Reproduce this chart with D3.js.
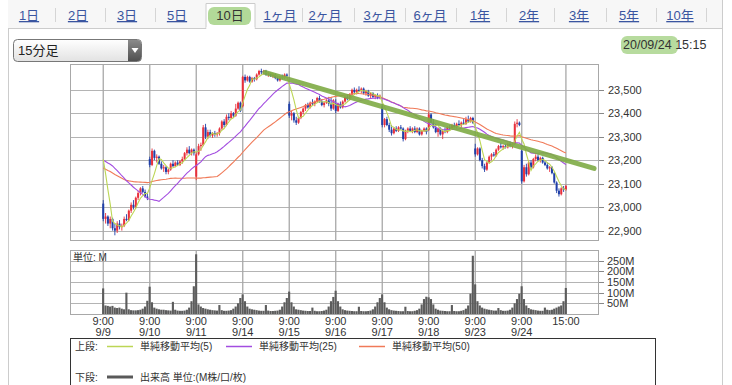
<!DOCTYPE html>
<meta charset="utf-8">
<script src="https://d3js.org/d3.v7.min.js"></script>
<style>
  body { margin: 0; background: #fff; }
  svg text { font-family: "Liberation Sans", "Noto Sans CJK JP", sans-serif; fill: #333; }
</style>
<div id="chart"></div>
<script>
// ---- data ----
var days = ["9/9", "9/10", "9/11", "9/14", "9/15", "9/16", "9/17", "9/18", "9/23", "9/24"];
var barsPerDay = 20;
var tabs = ["1日", "2日", "3日", "5日", "10日", "1ヶ月", "2ヶ月", "3ヶ月", "6ヶ月", "1年", "2年", "3年", "5年", "10年"];
var priceTicks = [22900, 23000, 23100, 23200, 23300, 23400, 23500];
var volumeTicks = [50, 100, 150, 200, 250];

// closes before 9/9 (needed so the moving averages start at the first bar)
var priorCloses = [
  23210, 23200, 23195, 23205, 23210, 23200, 23190, 23205, 23205,
  23120, 23100, 23085, 23090, 23080, 23095, 23100, 23090, 23085, 23080, 23090, 23100, 23095, 23105, 23110, 23100, 23095, 23090, 23085, 23090,
  23150, 23170, 23185, 23200, 23210, 23220, 23215, 23230, 23240, 23235, 23250, 23260, 23255, 23265, 23270, 23260, 23265, 23270, 23260, 23275
];

// 15 minute bars, 20 per day
var opens = [
  23015,22950,22960,22930,22950,22910,22900,22930,22915,22920,22950,22945,22985,23010,23000,23040,23060,23080,23065,23045,
  23205,23180,23240,23210,23215,23185,23165,23170,23150,23160,23185,23175,23190,23180,23195,23205,23230,23245,23230,23245,
  23130,23225,23260,23265,23340,23300,23320,23305,23315,23310,23315,23335,23365,23350,23385,23380,23400,23390,23420,23445,
  23430,23555,23540,23555,23535,23550,23545,23565,23580,23575,23580,23565,23570,23560,23565,23550,23540,23555,23550,23565,
  23440,23390,23400,23370,23360,23380,23405,23420,23435,23425,23445,23440,23450,23465,23450,23435,23445,23455,23440,23420,
  23440,23410,23440,23425,23450,23470,23460,23480,23500,23490,23500,23495,23505,23485,23495,23475,23485,23470,23475,23465,
  23430,23350,23375,23350,23330,23315,23335,23325,23340,23335,23290,23325,23335,23325,23335,23320,23335,23310,23325,23335,
  23330,23395,23360,23340,23320,23335,23310,23325,23320,23340,23335,23350,23340,23355,23350,23360,23355,23375,23365,23380,
  23250,23225,23250,23200,23175,23160,23190,23215,23225,23220,23245,23260,23255,23260,23255,23270,23260,23270,23355,23360,
  23240,23110,23170,23140,23190,23170,23205,23215,23200,23210,23190,23180,23165,23170,23145,23105,23070,23055,23080,23075
];
var highs = [
  23030,22975,22965,22960,22955,22930,22940,22945,22930,22960,22970,22990,23020,23030,23045,23070,23085,23090,23075,23060,
  23215,23250,23245,23225,23220,23195,23180,23175,23165,23190,23200,23195,23200,23200,23215,23235,23255,23260,23250,23250,
  23235,23270,23275,23350,23355,23330,23330,23320,23325,23320,23340,23370,23375,23395,23400,23410,23405,23440,23450,23450,
  23560,23565,23560,23560,23555,23555,23570,23585,23590,23585,23585,23575,23575,23570,23570,23560,23560,23565,23570,23570,
  23450,23410,23405,23385,23385,23410,23425,23440,23445,23450,23460,23455,23470,23475,23460,23450,23460,23470,23465,23460,
  23460,23445,23450,23455,23475,23480,23485,23505,23510,23505,23515,23510,23510,23500,23500,23490,23490,23480,23485,23480,
  23440,23380,23385,23360,23350,23340,23345,23345,23350,23340,23330,23340,23345,23340,23345,23340,23340,23330,23340,23340,
  23405,23400,23375,23355,23340,23340,23330,23340,23345,23350,23355,23360,23360,23370,23365,23375,23385,23390,23385,23385,
  23270,23255,23255,23210,23185,23195,23220,23230,23235,23250,23265,23275,23265,23270,23275,23280,23275,23365,23375,23365,
  23245,23180,23185,23200,23200,23210,23225,23225,23215,23215,23200,23190,23175,23175,23150,23110,23080,23085,23090,23095
];
var lows = [
  22940,22930,22920,22910,22900,22880,22890,22905,22900,22915,22940,22940,22975,22990,22995,23030,23050,23060,23040,23030,
  23170,23175,23200,23190,23180,23160,23150,23140,23140,23155,23170,23170,23175,23175,23185,23200,23220,23225,23220,23220,
  23115,23220,23240,23260,23290,23290,23300,23295,23300,23300,23305,23330,23340,23345,23370,23375,23380,23385,23415,23405,
  23425,23530,23535,23530,23530,23535,23540,23560,23565,23565,23560,23555,23555,23550,23545,23535,23535,23545,23545,23550,
  23380,23370,23360,23350,23355,23375,23395,23410,23420,23420,23435,23430,23445,23445,23430,23425,23440,23430,23410,23415,
  23400,23405,23420,23420,23445,23455,23455,23475,23485,23480,23490,23485,23480,23475,23470,23465,23465,23460,23460,23460,
  23340,23340,23345,23320,23305,23310,23320,23320,23330,23280,23285,23315,23320,23315,23315,23315,23305,23305,23320,23310,
  23325,23355,23335,23315,23300,23305,23290,23315,23315,23330,23330,23335,23335,23345,23340,23350,23350,23360,23360,23355,
  23215,23220,23195,23165,23150,23155,23185,23200,23215,23215,23240,23250,23245,23250,23250,23255,23250,23265,23340,23345,
  23100,23105,23130,23135,23160,23165,23195,23195,23190,23185,23175,23160,23150,23140,23100,23060,23045,23050,23065,23070
];
var closes = [
  22950,22960,22930,22950,22910,22900,22930,22915,22920,22950,22945,22985,23010,23000,23040,23060,23080,23065,23045,23040,
  23180,23240,23210,23215,23185,23165,23170,23150,23160,23185,23175,23190,23180,23195,23205,23230,23245,23230,23245,23230,
  23225,23260,23265,23340,23300,23320,23305,23315,23310,23315,23335,23365,23350,23385,23380,23400,23390,23420,23445,23410,
  23555,23540,23555,23535,23550,23545,23565,23580,23575,23580,23565,23570,23560,23565,23550,23540,23555,23550,23565,23560,
  23390,23400,23370,23360,23380,23405,23420,23435,23425,23445,23440,23450,23465,23450,23435,23445,23455,23440,23420,23455,
  23410,23440,23425,23450,23470,23460,23480,23500,23490,23500,23495,23505,23485,23495,23475,23485,23470,23475,23465,23475,
  23350,23375,23350,23330,23315,23335,23325,23340,23335,23290,23325,23335,23325,23335,23320,23335,23310,23325,23335,23320,
  23395,23360,23340,23320,23335,23310,23325,23320,23340,23335,23350,23340,23355,23350,23360,23355,23375,23365,23380,23360,
  23225,23250,23200,23175,23160,23190,23215,23225,23220,23245,23260,23255,23260,23255,23270,23260,23270,23355,23360,23350,
  23110,23170,23140,23190,23170,23205,23215,23200,23210,23190,23180,23165,23170,23145,23105,23070,23055,23080,23075,23090
];
// volume, millions
var volumes = [
  120,40,38,35,38,30,28,30,25,22,100,22,18,17,17,18,20,25,35,62,
  128,55,30,25,22,20,20,18,17,16,57,20,16,15,15,16,20,30,60,130,
  280,45,35,28,25,22,20,18,17,16,42,18,15,15,16,18,25,35,50,75,
  92,60,35,25,22,20,18,16,15,15,42,16,14,14,15,16,20,35,55,75,
  105,55,35,22,20,18,16,15,14,14,30,15,13,13,14,16,20,35,60,80,
  109,60,35,22,18,16,15,14,13,13,34,14,13,13,14,16,22,35,55,75,
  92,55,30,22,18,16,15,14,13,13,34,14,13,13,15,18,25,45,70,81,
  78,70,45,25,20,16,15,14,13,13,42,14,13,13,15,18,25,40,95,273,
  139,60,40,30,25,22,20,18,16,16,28,18,15,15,16,20,30,50,70,95,
  130,70,40,28,22,20,18,16,15,15,30,20,18,20,25,30,35,40,60,122
];
// hand drawn trend line: [bar index, price]
var trendLine = [[69.5, 23574], [211.1, 23165]];

// ---- setup ----
var W = 732, H = 385;
var svg = d3.select("#chart").append("svg").attr("width", W).attr("height", H);

var plot = {left: 70, right: 598, top: 64, bottom: 240, vTop: 250, vBottom: 314};
var x = d3.scaleLinear().domain([-14.3, 212.8]).range([plot.left, plot.right]);
var y = d3.scaleLinear().domain([22860, 23610]).range([plot.bottom, plot.top]);
var yv = d3.scaleLinear().domain([0, 300]).range([plot.vBottom, plot.vTop]);
var step = x(1) - x(0);

// ---- frame & tabs ----
svg.append("rect").attr("x", 8).attr("y", 0).attr("width", 714).attr("height", 28).attr("fill", "#f7f7f7");
svg.append("line").attr("x1", 8).attr("x2", 722).attr("y1", 28.5).attr("y2", 28.5).attr("stroke", "#ccc");
svg.append("line").attr("x1", 8.5).attr("x2", 8.5).attr("y1", 28).attr("y2", H).attr("stroke", "#ccc");
svg.append("line").attr("x1", 722.5).attr("x2", 722.5).attr("y1", 0).attr("y2", H).attr("stroke", "#ccc");

var tabX = [29, 78, 127, 177, 230, 280, 325, 380, 430, 480, 529, 579, 629, 680];
var sepX = [55, 105, 155, null, null, 302, 354, 405, 456, 506, 554, 606, 656, 706];
var selected = 4;

svg.append("path")
  .attr("d", "M206,29 V3.5 H255 V29")
  .attr("fill", "#fff").attr("stroke", "#ccc");
svg.append("rect").attr("x", 206.5).attr("y", 27).attr("width", 48).attr("height", 3).attr("fill", "#fff");
svg.append("rect").attr("x", 208).attr("y", 7).attr("width", 43).attr("height", 18).attr("rx", 6)
  .attr("fill", "#9fcf7e").attr("opacity", 0.8);

svg.selectAll(".tab").data(tabs).enter().append("text")
  .attr("x", function(d, i) { return tabX[i]; })
  .attr("y", 20)
  .attr("text-anchor", "middle")
  .style("font-size", "13px")
  .style("fill", function(d, i) { return i === selected ? "#333" : "#3a55a0"; })
  .style("text-decoration", function(d, i) { return i === selected ? "none" : "underline"; })
  .text(function(d) { return d; });

svg.selectAll(".sep").data(sepX.filter(function(d) { return d !== null; })).enter().append("line")
  .attr("x1", function(d) { return d + 0.5; }).attr("x2", function(d) { return d + 0.5; })
  .attr("y1", 8).attr("y2", 22).attr("stroke", "#d5d5d5");

// dropdown
var defs = svg.append("defs");
var g1 = defs.append("linearGradient").attr("id", "ddg").attr("x1", 0).attr("x2", 0).attr("y1", 0).attr("y2", 1);
g1.append("stop").attr("offset", "0%").attr("stop-color", "#ffffff");
g1.append("stop").attr("offset", "100%").attr("stop-color", "#e2e2e2");
var g2 = defs.append("linearGradient").attr("id", "ddb").attr("x1", 0).attr("x2", 0).attr("y1", 0).attr("y2", 1);
g2.append("stop").attr("offset", "0%").attr("stop-color", "#8a8a8a");
g2.append("stop").attr("offset", "100%").attr("stop-color", "#505050");
svg.append("rect").attr("x", 13.5).attr("y", 39.5).attr("width", 128).attr("height", 22).attr("rx", 4)
  .attr("fill", "url(#ddg)").attr("stroke", "#777");
svg.append("path").attr("d", "M128,40 H137.5 A3.5,3.5 0 0 1 141,43.5 V57.5 A3.5,3.5 0 0 1 137.5,61 H128 Z")
  .attr("fill", "url(#ddb)");
svg.append("path").attr("d", "M131.5,48 L138.5,48 L135,53 Z").attr("fill", "#fff");
svg.append("text").attr("x", 18).attr("y", 55).style("font-size", "13px").style("fill", "#222").text("15分足");

// timestamp
svg.append("rect").attr("x", 621).attr("y", 36).attr("width", 57).attr("height", 18).attr("rx", 6)
  .attr("fill", "#9fcf7e").attr("opacity", 0.75);
svg.append("text").attr("x", 623).attr("y", 49).style("font-size", "12.5px").style("fill", "#333")
  .text("20/09/24 15:15");

// ---- grid ----
var dayIdx = days.map(function(d, i) { return i * barsPerDay; });
var gridIdx = dayIdx.concat([closes.length - 1]);

function panel(top, bottom, ticks, ys) {
  var g = svg.append("g");
  g.selectAll(".h").data(ticks).enter().append("line")
    .attr("x1", plot.left).attr("x2", plot.right)
    .attr("y1", function(d) { return Math.round(ys(d)) + 0.5; })
    .attr("y2", function(d) { return Math.round(ys(d)) + 0.5; })
    .attr("stroke", "#b4b4b4");
  g.selectAll(".v").data(gridIdx).enter().append("line")
    .attr("x1", function(d) { return x(d); }).attr("x2", function(d) { return x(d); })
    .attr("y1", top).attr("y2", bottom)
    .attr("stroke", "#a8a8a8").attr("stroke-width", 1.3);
  g.append("rect").attr("x", plot.left + 0.5).attr("y", top + 0.5)
    .attr("width", plot.right - plot.left).attr("height", bottom - top)
    .attr("fill", "none").attr("stroke", "#a8a8a8");
  // right axis
  g.selectAll(".tk").data(ticks).enter().append("line")
    .attr("x1", plot.right + 1).attr("x2", plot.right + 6)
    .attr("y1", function(d) { return Math.round(ys(d)) + 0.5; })
    .attr("y2", function(d) { return Math.round(ys(d)) + 0.5; })
    .attr("stroke", "#888");
  return g;
}

var pg = panel(plot.top, plot.bottom, priceTicks, y);
pg.selectAll(".pl").data(priceTicks).enter().append("text")
  .attr("x", 608).attr("y", function(d) { return y(d) + 4; })
  .style("font-size", "11px")
  .text(function(d) { return d3.format(",")(d); });

var vg = panel(plot.vTop, plot.vBottom, volumeTicks, yv);
vg.selectAll(".vl").data(volumeTicks).enter().append("text")
  .attr("x", 607).attr("y", function(d) { return yv(d) + 4; })
  .style("font-size", "11px")
  .text(function(d) { return d + "M"; });
svg.append("text").attr("x", 73).attr("y", 261).style("font-size", "10px").text("単位: M");

// x labels
svg.selectAll(".xt").data(gridIdx).enter().append("text")
  .attr("x", function(d) { return x(d); }).attr("y", 325)
  .attr("text-anchor", "middle").style("font-size", "11px")
  .text(function(d, i) { return i < days.length ? "9:00" : "15:00"; });
svg.selectAll(".xd").data(days).enter().append("text")
  .attr("x", function(d, i) { return x(dayIdx[i]); }).attr("y", 336)
  .attr("text-anchor", "middle").style("font-size", "11px")
  .text(function(d) { return d; });

// ---- volume bars ----
svg.append("g").selectAll("rect").data(volumes).enter().append("rect")
  .attr("x", function(d, i) { return x(i) - step / 2; })
  .attr("width", step - 0.2)
  .attr("y", function(d) { return yv(d); })
  .attr("height", function(d) { return yv(0) - yv(d); })
  .attr("fill", "#5c5c5c");

// ---- candles ----
var bars = closes.map(function(c, i) { return {i: i, o: opens[i], h: highs[i], l: lows[i], c: c}; });
var upC = "#e8303c", dnC = "#1f3fa8";
var cg = svg.append("g");
cg.selectAll(".wick").data(bars).enter().append("line")
  .attr("x1", function(d) { return x(d.i); }).attr("x2", function(d) { return x(d.i); })
  .attr("y1", function(d) { return y(d.h); }).attr("y2", function(d) { return y(d.l); })
  .attr("stroke", function(d) { return d.c >= d.o ? upC : dnC; }).attr("stroke-width", 0.9);
cg.selectAll(".body").data(bars).enter().append("rect")
  .attr("x", function(d) { return x(d.i) - 1; })
  .attr("width", 2)
  .attr("y", function(d) { return y(Math.max(d.o, d.c)); })
  .attr("height", function(d) { return Math.max(1, Math.abs(y(d.o) - y(d.c))); })
  .attr("fill", function(d) { return d.c >= d.o ? upC : dnC; });

// ---- moving averages ----
var allCloses = priorCloses.concat(closes);
function sma(n) {
  return closes.map(function(c, i) {
    var end = i + priorCloses.length + 1;
    return d3.mean(allCloses.slice(end - n, end));
  });
}
var maDefs = [{n: 50, color: "#f07a58"}, {n: 25, color: "#a34de0"}, {n: 5, color: "#bcd655"}];
var line = d3.line().x(function(d, i) { return x(i); }).y(function(d) { return y(d); });
maDefs.forEach(function(m) {
  svg.append("path").datum(sma(m.n)).attr("d", line)
    .attr("fill", "none").attr("stroke", m.color).attr("stroke-width", 1.1);
});

// trend line annotation
svg.append("path").datum(trendLine)
  .attr("d", d3.line().x(function(d) { return x(d[0]); }).y(function(d) { return y(d[1]); }))
  .attr("stroke", "#7eab45").attr("stroke-width", 5).attr("stroke-linecap", "round")
  .attr("opacity", 0.9).attr("fill", "none");

// ---- legend ----
svg.append("rect").attr("x", 70.5).attr("y", 338.5).attr("width", 585).attr("height", 60)
  .attr("fill", "none").attr("stroke", "#333");
svg.append("text").attr("x", 75).attr("y", 350).style("font-size", "10px").text("上段:");
svg.append("text").attr("x", 75).attr("y", 381).style("font-size", "10px").text("下段:");
var legendItems = [
  {x: 107, label: "単純移動平均(5)", color: "#bcd655"},
  {x: 226, label: "単純移動平均(25)", color: "#a34de0"},
  {x: 359, label: "単純移動平均(50)", color: "#f07a58"}
];
legendItems.forEach(function(d) {
  svg.append("line").attr("x1", d.x).attr("x2", d.x + 26).attr("y1", 346.5).attr("y2", 346.5)
    .attr("stroke", d.color).attr("stroke-width", 1.5);
  svg.append("text").attr("x", d.x + 33).attr("y", 350).style("font-size", "10px").text(d.label);
});
svg.append("line").attr("x1", 107).attr("x2", 133).attr("y1", 377).attr("y2", 377)
  .attr("stroke", "#595959").attr("stroke-width", 3);
svg.append("text").attr("x", 140).attr("y", 381).style("font-size", "10px").text("出来高 単位:(M株/口/枚)");
</script>
